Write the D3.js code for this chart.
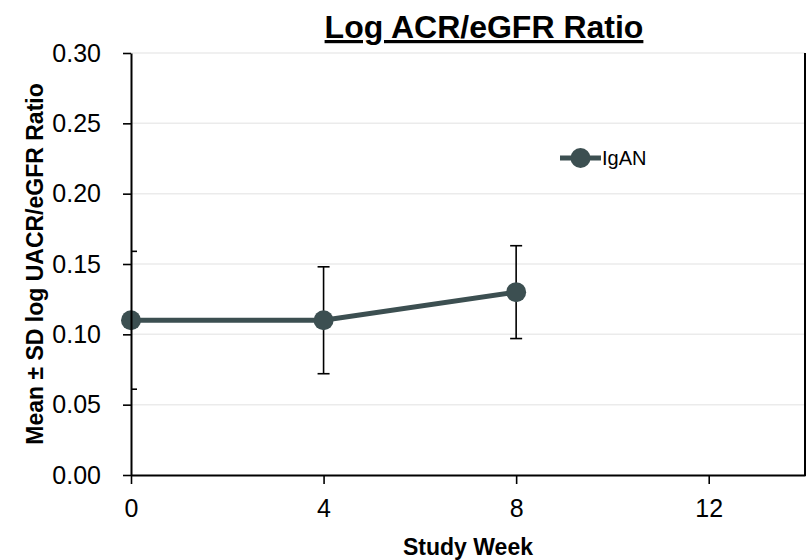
<!DOCTYPE html>
<html>
<head>
<meta charset="utf-8">
<script src="https://cdn.jsdelivr.net/npm/d3@7"></script>
<style>
  html, body { margin: 0; padding: 0; background: #fff; }
  svg { display: block; font-family: "Liberation Sans", Arial, sans-serif; }
</style>
</head>
<body>
<svg id="chart" width="809" height="560"></svg>
<script>
// ---- data ----
const weeks = [0, 4, 8];
const means = [0.110, 0.110, 0.130];
const sds = [0.049, 0.038, 0.033];
const xTicks = [0, 4, 8, 12];
const yTicks = [0, 0.05, 0.10, 0.15, 0.20, 0.25, 0.30];
const seriesName = "IgAN";
const chartTitle = "Log ACR/eGFR Ratio";
const xTitle = "Study Week";
const yTitle = "Mean \u00B1 SD log UACR/eGFR Ratio";

const W = 809, H = 560;
const m = { left: 131, right: 4, top: 53, bottom: 85 };
const svg = d3.select("#chart");
const x = d3.scaleLinear().domain([0, 14]).range([m.left, W - m.right]);
const y = d3.scaleLinear().domain([0, 0.30]).range([H - m.bottom, m.top]);
const lineColor = "#3c4f51";
const FONT = "Liberation Sans, Arial, sans-serif";

// gridlines
svg.append("g").selectAll("line").data(yTicks.slice(1)).join("line")
  .attr("x1", x(0)).attr("x2", x(14))
  .attr("y1", d => y(d)).attr("y2", d => y(d))
  .attr("stroke", "#ebebeb").attr("stroke-width", 1.5);

// clip for plot
svg.append("clipPath").attr("id", "clip").append("rect")
  .attr("x", x(0)).attr("y", y(0.30)).attr("width", x(14) - x(0)).attr("height", y(0) - y(0.30));

const plot = svg.append("g").attr("clip-path", "url(#clip)");

// error bars
const eb = plot.append("g").selectAll("g").data(weeks.map((w, i) => ({ w, m: means[i], s: sds[i] }))).join("g");
eb.append("line").attr("x1", d => x(d.w)).attr("x2", d => x(d.w))
  .attr("y1", d => y(d.m + d.s)).attr("y2", d => y(d.m - d.s))
  .attr("stroke", "#000").attr("stroke-width", 1.6);
eb.selectAll(".cap").data(d => [d.m + d.s, d.m - d.s].map(v => ({ w: d.w, v }))).join("line")
  .attr("x1", d => x(d.w) - 6).attr("x2", d => x(d.w) + 6)
  .attr("y1", d => y(d.v)).attr("y2", d => y(d.v))
  .attr("stroke", "#000").attr("stroke-width", 1.6);

// line
const pts = weeks.map((w, i) => [w, means[i]]);
svg.append("path").datum(pts)
  .attr("d", d3.line().x(d => x(d[0])).y(d => y(d[1])))
  .attr("fill", "none").attr("stroke", lineColor).attr("stroke-width", 5);

// markers
svg.append("g").selectAll("circle").data(pts).join("circle")
  .attr("cx", d => x(d[0])).attr("cy", d => y(d[1])).attr("r", 10)
  .attr("fill", lineColor);

// axes
const yAxis = svg.append("g").attr("transform", `translate(${x(0)},0)`)
  .call(d3.axisLeft(y).tickValues(yTicks).tickFormat(d3.format(".2f")).tickSize(8).tickSizeOuter(0));
const xAxis = svg.append("g").attr("transform", `translate(0,${y(0)})`)
  .call(d3.axisBottom(x).tickValues(xTicks).tickFormat(d3.format("d")).tickSize(9).tickSizeOuter(0));
[yAxis, xAxis].forEach(a => {
  a.attr("font-size", null).attr("font-family", null);
  a.select(".domain").attr("stroke", "#000").attr("stroke-width", 2);
  a.selectAll(".tick line").attr("stroke", "#000").attr("stroke-width", 1.6);
  a.selectAll(".tick text").attr("fill", "#000").style("font-size", "25px")
    .style("font-family", FONT);
});
yAxis.selectAll(".tick text").attr("x", -30);
xAxis.selectAll(".tick text").attr("y", 24);

// right border
svg.append("line").attr("x1", x(14)).attr("x2", x(14)).attr("y1", y(0.30)).attr("y2", y(0) + 1)
  .attr("stroke", "#000").attr("stroke-width", 2);

// titles
svg.append("text").attr("x", 484).attr("y", 38).attr("text-anchor", "middle")
  .style("font-size", "32px").attr("font-weight", "bold").attr("text-decoration", "underline")
  .text(chartTitle);
svg.append("text").attr("x", x(7)).attr("y", 555).attr("text-anchor", "middle")
  .style("font-size", "23px").attr("font-weight", "bold").text(xTitle);
svg.append("text").attr("transform", `translate(43,${(y(0) + y(0.30)) / 2}) rotate(-90)`)
  .attr("text-anchor", "middle").style("font-size", "23px").attr("font-weight", "bold").text(yTitle);

// legend
const lg = svg.append("g");
lg.append("line").attr("x1", 560).attr("x2", 601).attr("y1", 158).attr("y2", 158)
  .attr("stroke", lineColor).attr("stroke-width", 5);
lg.append("circle").attr("cx", 580.5).attr("cy", 158).attr("r", 10).attr("fill", lineColor);
lg.append("text").attr("x", 602).attr("y", 165).style("font-size", "20px").text(seriesName);
</script>
</body>
</html>
